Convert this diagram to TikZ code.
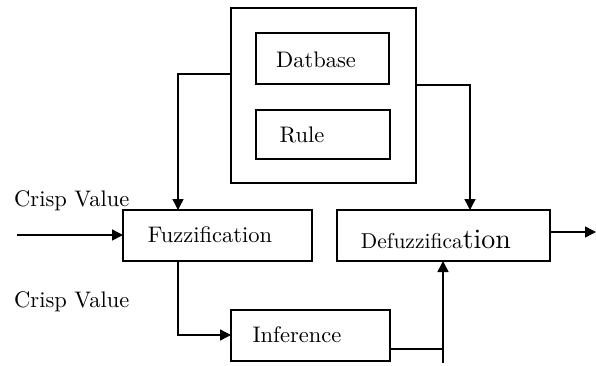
\documentclass[tikz,border=0pt]{standalone}
\usepackage{fontspec}
\setmainfont{lmroman10-regular}[Extension=.otf]
\usetikzlibrary{arrows.meta}
\begin{document}
\begin{tikzpicture}[x=1pt,y=-1pt,
  box/.style={draw,line width=1.7pt,inner sep=0pt,outer sep=0pt,rectangle},
  lbl/.style={inner sep=0pt,font=\fontsize{22.5}{26}\selectfont},
  conn/.style={line width=1.5pt},
  arr/.style={conn,-{Triangle[length=11pt,width=11pt]}}]
\useasboundingbox (0,0) rectangle (596,366);
% boxes
\node[box,minimum width=185pt,minimum height=175pt] (outer) at (323.5,95.5) {};
\node[box,minimum width=133pt,minimum height=51pt] (db) at (322.5,58.5) {};
\node[box,minimum width=134pt,minimum height=49pt] (rule) at (323,134.5) {};
\node[box,minimum width=189pt,minimum height=51pt] (fuzz) at (217.5,235.5) {};
\node[box,minimum width=213pt,minimum height=51pt] (defuzz) at (443.5,235.5) {};
\node[box,minimum width=159pt,minimum height=51pt] (inf) at (310.5,335.5) {};
% texts
\node[lbl] (dbt) at (316,60) {Datbase};
\node[lbl] (rulet) at (302,135) {Rule};
\node[lbl] (fuzzt) at (210,235) {Fuzzification};
\node[lbl] (defuzzt) at (436,239) {{\fontsize{21.5}{26}\selectfont Defuzzifica}{\fontsize{28}{30}\selectfont tion}};
\node[lbl] (inft) at (297,335) {Inference};
\node[lbl,anchor=west] (cv1) at (14,201) {Crisp Value};
\node[lbl,anchor=west] (cv2) at (14,302) {Crisp Value};
% connector points
\coordinate (inL) at (17,235);
\coordinate (outR) at (596,232);
\coordinate (la) at (178,74);
\coordinate (ra) at (470,85);
\coordinate (fb) at (178,335);
\coordinate (ib) at (443,349);
\coordinate (vb) at (443,363);
% connectors
\draw[arr] (outer.west |- la) -- (la) -- (la |- fuzz.north);
\draw[arr] (outer.east |- ra) -- (ra) -- (ra |- defuzz.north);
\draw[arr] (inL) -- (fuzz.west |- inL);
\draw[arr] (defuzz.east |- outR) -- (outR);
\draw[arr] (la |- fuzz.south) -- (fb) -- (inf.west |- fb);
\draw[conn] (inf.east |- ib) -- (ib);
\draw[arr] (vb) -- (vb |- defuzz.south);
\end{tikzpicture}
\end{document}
